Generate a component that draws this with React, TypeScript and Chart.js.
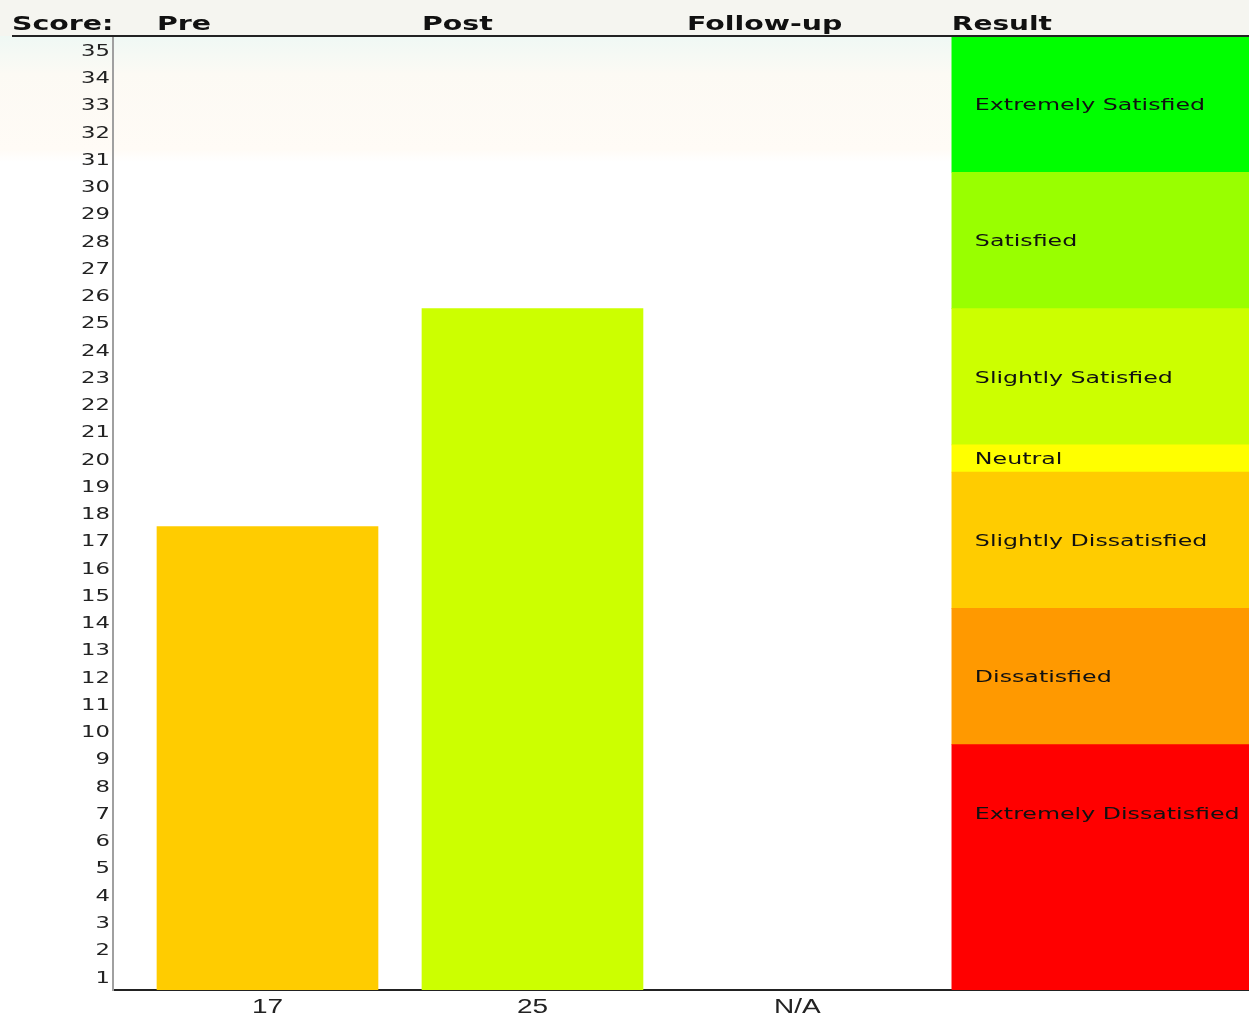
import React, { useEffect, useRef } from "react";
import { Chart, registerables } from "chart.js";

Chart.register(...registerables);

// ---- data ----
const categories = ["Pre", "Post", "Follow-up"];
const scores: (number | null)[] = [17, 25, null];
const scoreLabels = ["17", "25", "N/A"];
const scoreColors = ["#FFCC00", "#CCFF00", "#FFFFFF"];

const resultTitle = "Result";
const resultLabels = [
  "Extremely Satisfied",
  "Satisfied",
  "Slightly Satisfied",
  "Neutral",
  "Slightly Dissatisfied",
  "Dissatisfied",
  "Extremely Dissatisfied",
];
const resultLow = [30, 25, 20, 19, 14, 9, 0];
const resultHigh = [35, 30, 25, 20, 19, 14, 9];
const resultColors = ["#00FF00", "#99FF00", "#CCFF00", "#FFFF00", "#FFCC00", "#FF9900", "#FF0000"];

const yTickLabels = [
  1, 2, 3, 4, 5, 6, 7, 8, 9, 10, 11, 12, 13, 14, 15, 16, 17, 18, 19, 20,
  21, 22, 23, 24, 25, 26, 27, 28, 29, 30, 31, 32, 33, 34, 35,
];
const Y_MIN = 0;
const Y_MAX = 35;
const X_MIN = -0.583;
const X_MAX = 3.704;
const RESULT_X = 3.143;
const SCORE_BAR_PX = 221;
const RESULT_BAR_PX = 297;

function stretchText(ctx: CanvasRenderingContext2D, text: string, x: number, y: number, sx: number, align: CanvasTextAlign) {
  ctx.save();
  ctx.translate(x, y);
  ctx.scale(sx, 1);
  ctx.textAlign = align;
  ctx.fillText(text, 0, 0);
  ctx.restore();
}

const decorPlugin = {
  id: "decor",
  beforeDraw(chart: any) {
    const { ctx, chartArea: a } = chart;
    ctx.save();
    ctx.fillStyle = "#ffffff";
    ctx.fillRect(0, 0, chart.width, chart.height);
    ctx.fillStyle = "#f5f5f0";
    ctx.fillRect(0, 0, chart.width, a.top);
    const g = ctx.createLinearGradient(0, a.top, 0, a.top + 126);
    g.addColorStop(0, "#eff8f4");
    g.addColorStop(0.3, "#fcfaf4");
    g.addColorStop(0.9, "#fffbf6");
    g.addColorStop(1, "#ffffff");
    ctx.fillStyle = g;
    ctx.fillRect(0, a.top, chart.width, 126);
    ctx.restore();
  },
  afterDraw(chart: any) {
    const { ctx, chartArea: a } = chart;
    const xs = chart.scales.x;
    const ys = chart.scales.y;
    ctx.save();
    // header line
    ctx.strokeStyle = "#222";
    ctx.lineWidth = 2;
    ctx.beginPath();
    ctx.moveTo(12, a.top);
    ctx.lineTo(chart.width, a.top);
    ctx.stroke();

    // headers
    ctx.fillStyle = "#111";
    ctx.font = 'bold 20px "DejaVu Sans"';
    ctx.textBaseline = "alphabetic";
    stretchText(ctx, "Score:", 12, 30, 1.42, "left");
    categories.forEach((c, i) => {
      stretchText(ctx, c, xs.getPixelForValue(i) - SCORE_BAR_PX / 2, 30, 1.42, "left");
    });
    const resMeta = chart.getDatasetMeta(1);
    const firstBand = resMeta.data[0];
    stretchText(ctx, resultTitle, firstBand.x - firstBand.width / 2, 30, 1.4, "left");

    // y tick labels (centered in each unit band)
    ctx.fillStyle = "#222";
    ctx.font = '16px "DejaVu Sans"';
    ctx.textBaseline = "middle";
    yTickLabels.forEach((t) => {
      stretchText(ctx, String(t), a.left - 3, ys.getPixelForValue(t - 0.5) + 2, 1.42, "right");
    });

    // x tick labels
    ctx.fillStyle = "#222";
    ctx.font = '20px "Liberation Sans"';
    ctx.textBaseline = "alphabetic";
    scoreLabels.forEach((s, i) => {
      stretchText(ctx, s, xs.getPixelForValue(i), a.bottom + 23, 1.4, "center");
    });

    // band labels (centred in the top five units of each band)
    ctx.fillStyle = "#111";
    ctx.font = '15px "DejaVu Sans"';
    ctx.textBaseline = "middle";
    resMeta.data.forEach((el: any, i: number) => {
      const left = el.x - el.width / 2 + 23;
      const v = Math.max((resultLow[i] + resultHigh[i]) / 2, resultHigh[i] - 2.5);
      stretchText(ctx, resultLabels[i], left, ys.getPixelForValue(v) + 2, 1.58, "left");
    });
    ctx.restore();
  },
};

export default function App() {
  const ref = useRef<HTMLCanvasElement>(null);
  useEffect(() => {
    if (!ref.current) return;
    const scoreData = scores
      .map((v, i) => (v === null ? null : { x: i, y: v }))
      .filter((d) => d !== null);
    const scoreBg = scores
      .map((v, i) => (v === null ? null : scoreColors[i]))
      .filter((d) => d !== null);
    const chart = new Chart(ref.current, {
      type: "bar",
      data: {
        datasets: [
          {
            label: "Score",
            data: scoreData as any,
            backgroundColor: scoreBg as any,
            borderWidth: 0,
            barThickness: SCORE_BAR_PX,
            grouped: false,
          } as any,
          {
            label: resultTitle,
            data: resultLow.map((lo, i) => ({ x: RESULT_X, y: [lo, resultHigh[i]] })) as any,
            backgroundColor: resultColors,
            borderWidth: 0,
            barThickness: RESULT_BAR_PX,
            grouped: false,
          } as any,
        ],
      },
      options: {
        responsive: false,
        animation: false,
        layout: { padding: { top: 36, left: 0, right: 0, bottom: 0 } },
        plugins: {
          legend: { display: false },
          tooltip: { enabled: false },
          title: { display: false },
        },
        scales: {
          x: {
            type: "linear",
            min: X_MIN,
            max: X_MAX,
            offset: false,
            grid: { display: false },
            ticks: { display: false },
            border: { display: true, color: "#222", width: 2 },
            afterFit: (s: any) => {
              s.height = 28;
            },
          },
          y: {
            type: "linear",
            min: Y_MIN,
            max: Y_MAX,
            grid: { display: false },
            ticks: { display: false },
            border: { display: true, color: "#a0a0a0", width: 2 },
            afterFit: (s: any) => {
              s.width = 113;
            },
          },
        },
      } as any,
      plugins: [decorPlugin],
    });
    return () => chart.destroy();
  }, []);
  return (
    <div style={{ position: "absolute", left: 0, top: 0, width: 1249, height: 1018 }}>
      <canvas ref={ref} width={1249} height={1018} style={{ display: "block" }} />
    </div>
  );
}
